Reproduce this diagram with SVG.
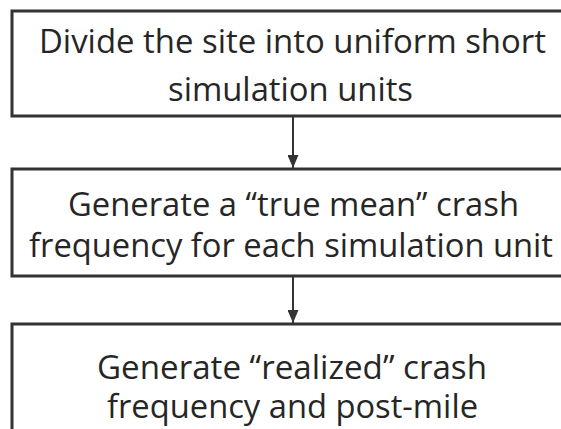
<svg xmlns="http://www.w3.org/2000/svg" width="561" height="429" viewBox="0 0 561 429">
<style>
.box{fill:none;stroke:#333;stroke-width:3}
.t{font-family:"Open Sans","Liberation Sans",sans-serif;font-size:33px;fill:#262626;text-anchor:middle}
.c{stroke:#333;stroke-width:2;fill:none}
</style>
<defs>
<marker id="ah" viewBox="0 0 13 11" refX="13" refY="5.5" markerWidth="13" markerHeight="11" orient="auto" markerUnits="userSpaceOnUse">
<path d="M0,0 L13,5.5 L0,11 z" fill="#333"/>
</marker>
</defs>
<rect width="561" height="429" fill="#fff"/>
<g id="connectors">
<line class="c" x1="293" y1="117" x2="293" y2="168" marker-end="url(#ah)"/>
<line class="c" x1="293" y1="277" x2="293" y2="323" marker-end="url(#ah)"/>
</g>
<g id="node1">
<path class="box" d="M561,11 H12 V116 H561"/>
<text class="t" x="292.5" y="53" textLength="507" lengthAdjust="spacingAndGlyphs">Divide the site into uniform short</text>
<text class="t" x="290.5" y="101" textLength="245" lengthAdjust="spacingAndGlyphs">simulation units</text>
</g>
<g id="node2">
<path class="box" d="M561,169 H12 V276 H561"/>
<text class="t" x="293.5" y="216" textLength="451" lengthAdjust="spacingAndGlyphs">Generate a “true mean” crash</text>
<text class="t" x="291" y="257" textLength="524" lengthAdjust="spacingAndGlyphs">frequency for each simulation unit</text>
</g>
<g id="node3">
<path class="box" d="M561,324 H12 V429"/>
<text class="t" x="292" y="379" textLength="390" lengthAdjust="spacingAndGlyphs">Generate “realized” crash</text>
<text class="t" x="292.5" y="418" textLength="371" lengthAdjust="spacingAndGlyphs">frequency and post-mile</text>
</g>
</svg>
